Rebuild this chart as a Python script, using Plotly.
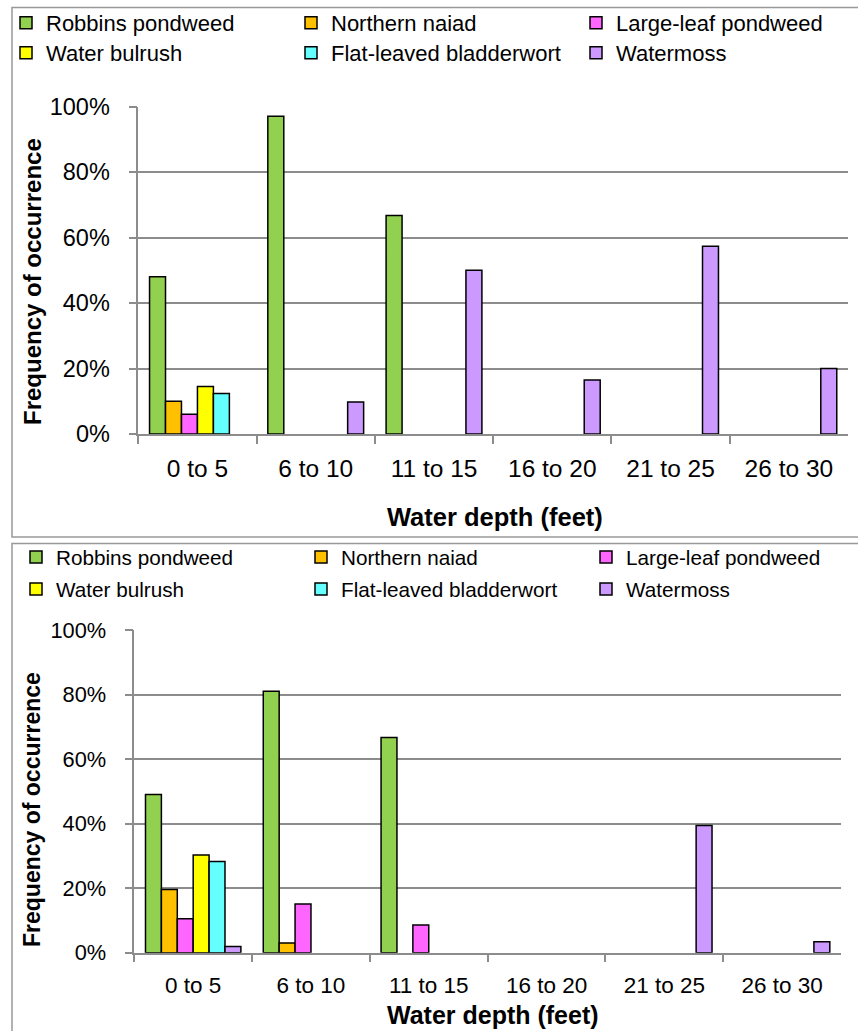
import plotly.graph_objects as go

W, H = 858, 1031

categories = ["0 to 5", "6 to 10", "11 to 15", "16 to 20", "21 to 25", "26 to 30"]
species = ["Robbins pondweed", "Northern naiad", "Large-leaf pondweed",
           "Water bulrush", "Flat-leaved bladderwort", "Watermoss"]
colors = ["#92D050", "#FFC000", "#FF66FF", "#FFFF00", "#66FFFF", "#CC99FF"]

# Top chart values (fraction of sites)
top_robbins = [0.48, 0.97, 0.667, 0, 0, 0]
top_naiad = [0.10, 0, 0, 0, 0, 0]
top_largeleaf = [0.06, 0, 0, 0, 0, 0]
top_bulrush = [0.145, 0, 0, 0, 0, 0]
top_flatleaved = [0.124, 0, 0, 0, 0, 0]
top_watermoss = [0, 0.098, 0.50, 0.165, 0.573, 0.20]

# Bottom chart values
bot_robbins = [0.49, 0.81, 0.667, 0, 0, 0]
bot_naiad = [0.196, 0.03, 0, 0, 0, 0]
bot_largeleaf = [0.105, 0.151, 0.086, 0, 0, 0]
bot_bulrush = [0.303, 0, 0, 0, 0, 0]
bot_flatleaved = [0.283, 0, 0, 0, 0, 0]
bot_watermoss = [0.019, 0, 0, 0, 0.394, 0.034]

top_series = [top_robbins, top_naiad, top_largeleaf, top_bulrush, top_flatleaved, top_watermoss]
bot_series = [bot_robbins, bot_naiad, bot_largeleaf, bot_bulrush, bot_flatleaved, bot_watermoss]

FONT = "Liberation Sans, Arial, sans-serif"
GRAY = "#8c8c8c"

def px_x(x):
    return x / W

def px_y(y):
    return (H - y) / H

fig = go.Figure()

for i, (name, col) in enumerate(zip(species, colors)):
    vals = [v if v else None for v in top_series[i]]
    fig.add_trace(go.Bar(
        x=categories, y=vals, name=name, xaxis="x", yaxis="y",
        marker=dict(color=col, line=dict(color="black", width=1.5)),
        legend="legend" if i < 3 else "legend2",
    ))
for i, (name, col) in enumerate(zip(species, colors)):
    vals = [v if v else None for v in bot_series[i]]
    fig.add_trace(go.Bar(
        x=categories, y=vals, name=name, xaxis="x2", yaxis="y2",
        marker=dict(color=col, line=dict(color="black", width=1.5)),
        legend="legend3" if i < 3 else "legend4",
    ))

def xaxis_cfg(x0, x1, anchor, fs):
    return dict(
        domain=[px_x(x0), px_x(x1)], anchor=anchor, type="category",
        categoryorder="array", categoryarray=categories, range=[-0.5, 5.5],
        tickson="boundaries", ticks="outside", ticklen=8, tickwidth=1.5, tickcolor=GRAY,
        showline=True, linecolor=GRAY, linewidth=1.5, showgrid=False,
        tickfont=dict(family=FONT, size=fs, color="black"), ticklabelstandoff=12,
        fixedrange=True,
    )

def yaxis_cfg(y0, y1, anchor, fs):
    return dict(
        domain=[px_y(y1), px_y(y0)], anchor=anchor, range=[0, 1],
        tickmode="array", tickvals=[0, 0.2, 0.4, 0.6, 0.8, 1.0], tickformat=".0%",
        ticks="outside", ticklen=8, tickwidth=1.5, tickcolor=GRAY,
        showline=True, linecolor=GRAY, linewidth=1.5,
        showgrid=True, gridcolor=GRAY, gridwidth=1.5, zeroline=False,
        tickfont=dict(family=FONT, size=fs, color="black"), ticklabelstandoff=14,
        fixedrange=True,
    )

def legend_cfg(x_px, y_px, fs):
    return dict(
        orientation="h", xref="container", yref="container",
        x=px_x(x_px), y=px_y(y_px), xanchor="left", yanchor="middle",
        entrywidth=240, entrywidthmode="pixels",
        font=dict(family=FONT, size=fs, color="black"),
        bgcolor="rgba(0,0,0,0)", borderwidth=0, traceorder="normal",
        itemclick=False, itemdoubleclick=False,
    )

annotations = [
    dict(text="<b>Water depth (feet)</b>", x=px_x(495), y=px_y(517), xref="paper", yref="paper",
         showarrow=False, xanchor="center", yanchor="middle",
         font=dict(family=FONT, size=25.5, color="black")),
    dict(text="<b>Frequency of occurrence</b>", x=px_x(33), y=px_y(282), xref="paper", yref="paper",
         showarrow=False, xanchor="center", yanchor="middle", textangle=-90,
         font=dict(family=FONT, size=24, color="black")),
    dict(text="<b>Water depth (feet)</b>", x=px_x(493), y=px_y(1015), xref="paper", yref="paper",
         showarrow=False, xanchor="center", yanchor="middle",
         font=dict(family=FONT, size=25, color="black")),
    dict(text="<b>Frequency of occurrence</b>", x=px_x(32), y=px_y(810), xref="paper", yref="paper",
         showarrow=False, xanchor="center", yanchor="middle", textangle=-90,
         font=dict(family=FONT, size=23, color="black")),
]

shapes = [
    dict(type="rect", xref="paper", yref="paper", x0=px_x(12), x1=px_x(870),
         y0=px_y(537), y1=px_y(7.5), line=dict(color="#999999", width=1.5), layer="below"),
    dict(type="rect", xref="paper", yref="paper", x0=px_x(12), x1=px_x(870),
         y0=px_y(1045), y1=px_y(543.5), line=dict(color="#999999", width=1.5), layer="below"),
]

fig.update_layout(
    width=W, height=H, autosize=False,
    margin=dict(l=0, r=0, t=0, b=0, pad=0, autoexpand=False),
    paper_bgcolor="white", plot_bgcolor="white",
    barmode="group", bargap=0.19, bargroupgap=0,
    xaxis=xaxis_cfg(138.3, 848, "y", 24.5),
    yaxis=yaxis_cfg(106.5, 434, "x", 23.5),
    xaxis2=xaxis_cfg(134.3, 841, "y2", 22.5),
    yaxis2=yaxis_cfg(630, 952.7, "x2", 21.8),
    legend=legend_cfg(6, 23, 22),
    legend2=legend_cfg(6, 53, 22),
    legend3=legend_cfg(16, 557, 20.7),
    legend4=legend_cfg(16, 589, 20.7),
    annotations=annotations,
    shapes=shapes,
    font=dict(family=FONT, color="black"),
    hovermode=False,
)

fig.write_html(
    "out.html",
    config={"displayModeBar": False},
    post_script="document.body.style.margin='0';document.body.style.padding='0';document.body.style.overflow='hidden';",
)
